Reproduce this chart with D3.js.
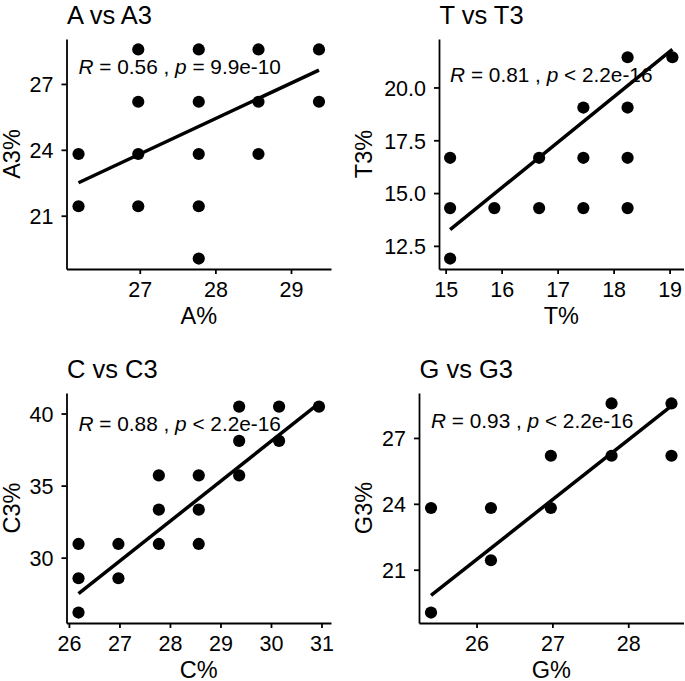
<!DOCTYPE html>
<html><head><meta charset="utf-8">
<script src="https://cdn.jsdelivr.net/npm/d3@7"></script>
<style>body{margin:0;background:#fff}svg{display:block}</style>
</head><body>
<svg id="chart" width="685" height="681"></svg>
<script>
// ---------- data ----------
const panelTitles = ["A vs A3", "T vs T3", "C vs C3", "G vs G3"];
const xTitles = ["A%", "T%", "C%", "G%"];
const yTitles = ["A3%", "T3%", "C3%", "G3%"];
const corR = ["0.56", "0.81", "0.88", "0.93"];
const corOp = ["=", "<", "<", "<"];
const corP = ["9.9e-10", "2.2e-16", "2.2e-16", "2.2e-16"];

const aX = [26.19, 26.19, 26.98, 26.98, 26.98, 26.98, 27.78, 27.78, 27.78, 27.78, 27.78, 28.57, 28.57, 28.57, 29.37, 29.37];
const aY = [23.81, 21.43, 28.57, 26.19, 23.81, 21.43, 28.57, 26.19, 23.81, 21.43, 19.05, 28.57, 26.19, 23.81, 28.57, 26.19];

const tX = [15.08, 15.08, 15.08, 15.87, 16.67, 16.67, 17.46, 17.46, 17.46, 18.25, 18.25, 18.25, 18.25, 19.05];
const tY = [16.67, 14.29, 11.90, 14.29, 16.67, 14.29, 19.05, 16.67, 14.29, 21.43, 19.05, 16.67, 14.29, 21.43];

const cX = [26.19, 26.19, 26.19, 26.98, 26.98, 27.78, 27.78, 27.78, 28.57, 28.57, 28.57, 29.37, 29.37, 29.37, 30.16, 30.16, 30.95];
const cY = [30.95, 28.57, 26.19, 30.95, 28.57, 35.71, 33.33, 30.95, 35.71, 33.33, 30.95, 40.48, 38.10, 35.71, 40.48, 38.10, 40.48];

const gX = [25.40, 25.40, 26.19, 26.19, 26.98, 26.98, 27.78, 27.78, 28.57, 28.57];
const gY = [23.81, 19.05, 23.81, 21.43, 26.19, 23.81, 28.57, 26.19, 28.57, 26.19];

// regression line end points (x start, x end) and (y start, y end)
const fitX = [[26.19, 29.37], [15.08, 19.05], [26.19, 30.95], [25.40, 28.57]];
const fitY = [[22.50, 27.63], [13.27, 21.80], [27.50, 40.70], [19.83, 28.46]];

const xTicks = [[27, 28, 29], [15, 16, 17, 18, 19], [26, 27, 28, 29, 30, 31], [26, 27, 28]];
const yTicks = [[21, 24, 27], [12.5, 15, 17.5, 20], [30, 35, 40], [21, 24, 27]];
const yTickLabels = [["21", "24", "27"], ["12.5", "15.0", "17.5", "20.0"], ["30", "35", "40"], ["21", "24", "27"]];

const pointsX = [aX, tX, cX, gX];
const pointsY = [aY, tY, cY, gY];

// ---------- layout ----------
const FONT = "'Liberation Sans', Arial, Helvetica, sans-serif";
const colX = [0, 352.5, 0, 352.5];
const rowY = [0, 0, 354, 354];
const plotLeft = [66.5, 86.5, 66.5, 66.5];
const plotRight = 331, plotTop = 39, plotBottom = 269;

const svg = d3.select("#chart");
svg.append("rect").attr("width", 685).attr("height", 681).attr("fill", "#fff");

for (let i = 0; i < 4; i++) {
  const g = svg.append("g").attr("transform", `translate(${colX[i]},${rowY[i]})`);
  const xs = pointsX[i], ys = pointsY[i];
  const [x0, x1] = d3.extent(xs.concat(fitX[i]));
  const [y0, y1] = d3.extent(ys.concat(fitY[i]));
  const ex = (x1 - x0) * 0.05, ey = (y1 - y0) * 0.05;
  const x = d3.scaleLinear().domain([x0 - ex, x1 + ex]).range([plotLeft[i], plotRight]);
  const y = d3.scaleLinear().domain([y0 - ey, y1 + ey]).range([plotBottom, plotTop]);

  // points
  g.append("g").selectAll("circle").data(d3.range(xs.length)).join("circle")
    .attr("cx", k => x(xs[k])).attr("cy", k => y(ys[k])).attr("r", 6.1).attr("fill", "#000");

  // regression line
  const line = d3.line().x(d => x(d[0])).y(d => y(d[1]));
  g.append("path")
    .datum([[fitX[i][0], fitY[i][0]], [fitX[i][1], fitY[i][1]]])
    .attr("d", line).attr("fill", "none").attr("stroke", "#000").attr("stroke-width", 3.5);

  // axes
  const xAxis = d3.axisBottom(x).tickValues(xTicks[i]).tickFormat(d3.format("d"))
    .tickSize(5).tickSizeOuter(0).tickPadding(8);
  const yAxis = d3.axisLeft(y).tickValues(yTicks[i]).tickFormat((d, k) => yTickLabels[i][k])
    .tickSize(5).tickSizeOuter(0).tickPadding(8);
  const gx = g.append("g").attr("transform", `translate(0,${plotBottom})`).call(xAxis);
  const gy = g.append("g").attr("transform", `translate(${plotLeft[i]},0)`).call(yAxis);
  [gx, gy].forEach(a => {
    a.select(".domain").attr("stroke", "#000").attr("stroke-width", 1.8);
    a.selectAll(".tick line").attr("stroke", "#000").attr("stroke-width", 1.8);
    a.selectAll(".tick text").attr("fill", "#000").style("font-family", FONT).style("font-size", "21.5px");
  });
  gy.selectAll(".tick text").attr("dy", "0.36em");

  // titles
  g.append("text").attr("x", plotLeft[i] + 0.5).attr("y", 23.6)
    .style("font-family", FONT).style("font-size", "25.5px").attr("fill", "#000").text(panelTitles[i]);
  g.append("text").attr("x", (plotLeft[i] + plotRight) / 2).attr("y", 323.5).attr("text-anchor", "middle")
    .style("font-family", FONT).style("font-size", "23.5px").attr("fill", "#000").text(xTitles[i]);
  g.append("text").attr("transform", `translate(19.5,${(plotTop + plotBottom) / 2}) rotate(-90)`)
    .attr("text-anchor", "middle")
    .style("font-family", FONT).style("font-size", "23.5px").attr("fill", "#000").text(yTitles[i]);

  // correlation annotation
  const ann = g.append("text").attr("x", x(d3.min(xs))).attr("y", y(d3.max(ys)) + 24.5)
    .style("font-family", FONT).style("font-size", "20.8px").attr("fill", "#000")
    .attr("xml:space", "preserve");
  ann.append("tspan").style("font-style", "italic").text("R");
  ann.append("tspan").text(` = ${corR[i]} , `);
  ann.append("tspan").style("font-style", "italic").text("p");
  ann.append("tspan").text(` ${corOp[i]} ${corP[i]}`);
}
</script>
</body></html>
